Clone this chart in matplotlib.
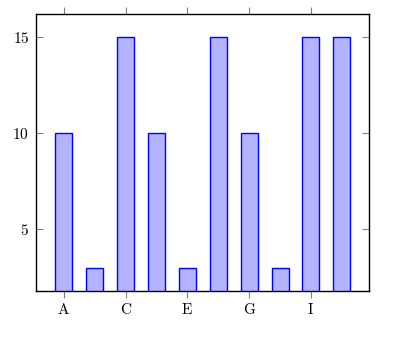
import matplotlib.pyplot as plt

plt.rcParams['mathtext.fontset'] = 'cm'
plt.rcParams['font.family'] = 'serif'
plt.rcParams['font.serif'] = ['DejaVu Serif']

# Data
categories = ["A", "B", "C", "D", "E", "F", "G", "H", "I", "J"]
values = [10, 3, 15, 10, 3, 15, 10, 3, 15, 15]
tick_labels = ["A", "C", "E", "G", "I"]
y_ticks = [5, 10, 15]

fig = plt.figure(figsize=(4.08, 3.38), dpi=100)
ax = fig.add_axes([36 / 408, 47 / 338, 333 / 408, 277 / 338])

x = list(range(len(categories)))
ax.bar(x, values, width=0.55, color='#b3b3ff', edgecolor='blue', linewidth=1.0)

ax.set_xlim(-0.90, len(categories) - 1 + 0.88)
ax.set_ylim(1.79, 16.21)

ax.set_xticks(x[::2])
ax.set_xticklabels(["$\\mathrm{%s}$" % t for t in tick_labels], fontsize=11)
ax.set_yticks(y_ticks)
ax.set_yticklabels(["$%d$" % v for v in y_ticks], fontsize=11)

ax.tick_params(axis='x', direction='out', top=True, bottom=True, length=5,
               color='gray', width=0.8, pad=3)
ax.tick_params(axis='y', direction='in', left=True, right=True, length=5,
               color='gray', width=0.8, pad=5)

for s in ax.spines.values():
    s.set_linewidth(1.0)

fig.savefig("out.png", dpi=100)
